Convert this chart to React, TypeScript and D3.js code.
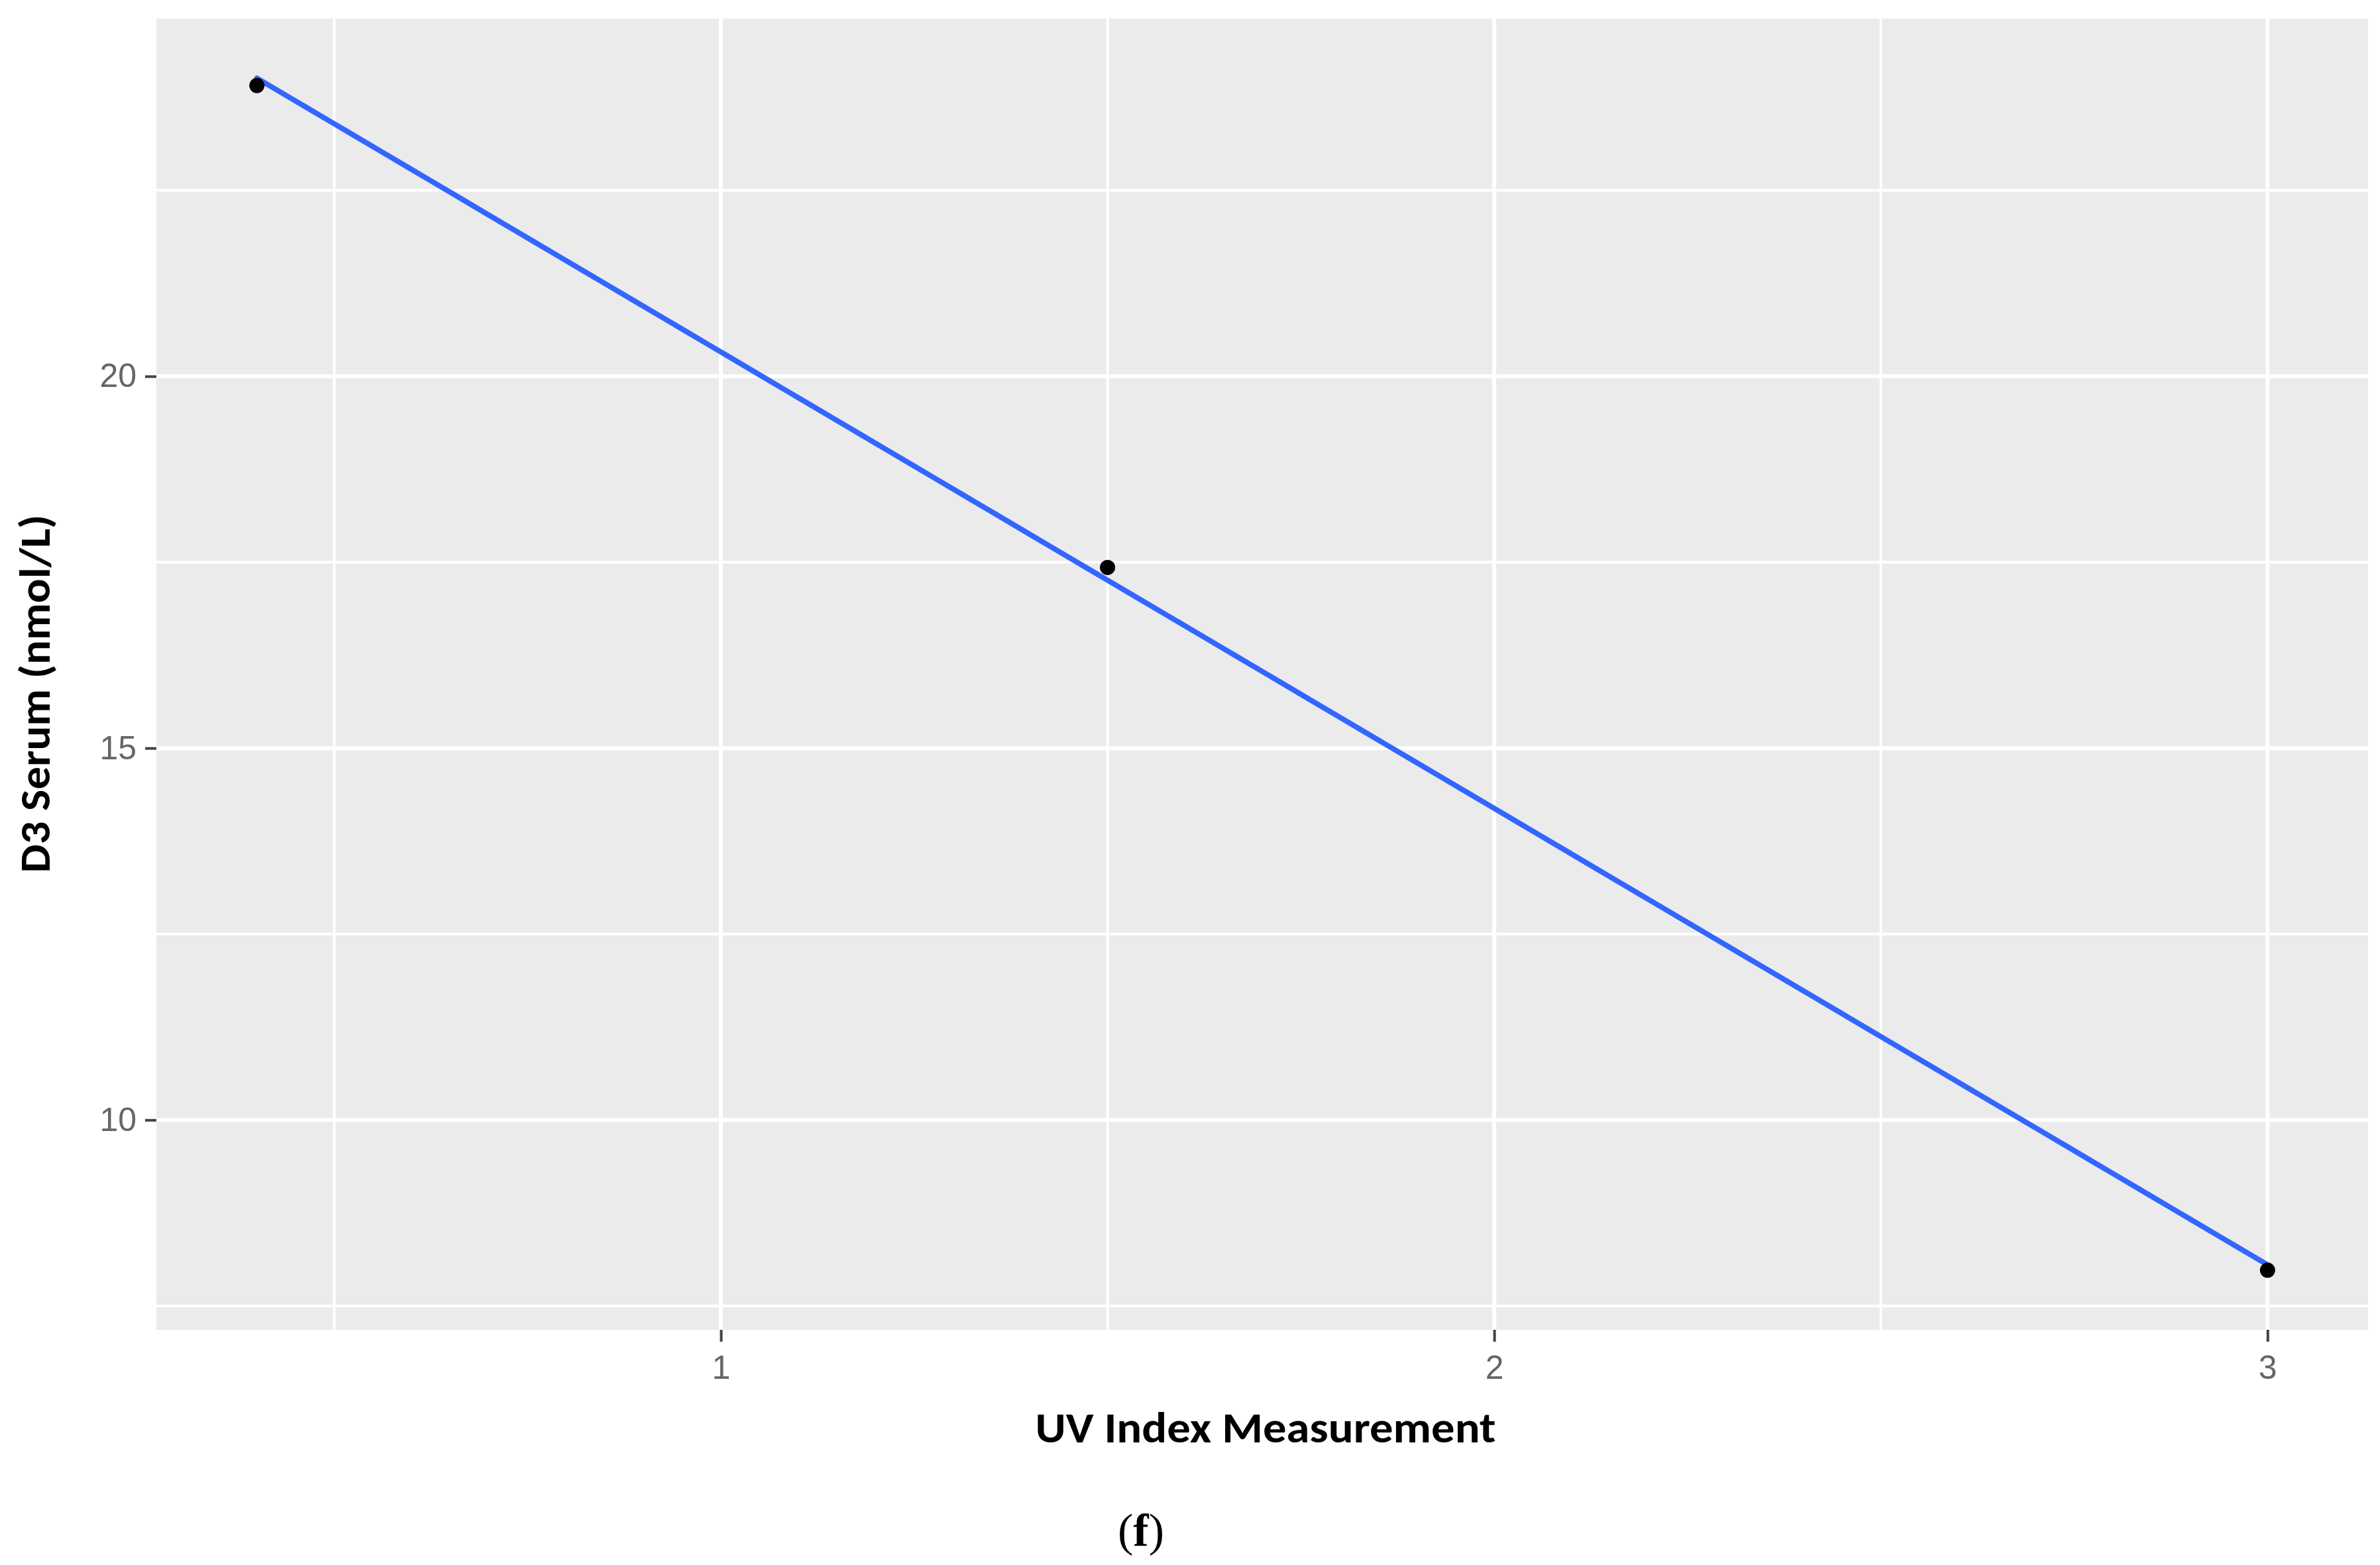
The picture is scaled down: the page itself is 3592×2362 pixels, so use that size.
import { useEffect, useRef } from "react";
import * as d3 from "d3";

// values
const uvIndex = [0.4, 1.5, 3];
const d3Serum = [23.91, 17.43, 7.98];
const xTicks = [1, 2, 3];
const yTicks = [10, 15, 20];
const xTitle = "UV Index Measurement";
const yTitle = "D3 Serum (nmol/L)";

const W = 3592;
const H = 2362;
const margin = { top: 28, right: 18, bottom: 355, left: 236 };

const App = () => {
  const chartRef = useRef<SVGSVGElement | null>(null);

  useEffect(() => {
    const svg = d3.select(chartRef.current);
    svg.selectAll("*").remove();

    const points = uvIndex.map((x, i) => ({ x, y: d3Serum[i] }));

    // least squares fit (geom_smooth-like straight line)
    const mx = d3.mean(uvIndex) as number;
    const my = d3.mean(d3Serum) as number;
    const slope =
      d3.sum(points, (p) => (p.x - mx) * (p.y - my)) /
      d3.sum(points, (p) => (p.x - mx) ** 2);
    const intercept = my - slope * mx;
    const xExt = d3.extent(uvIndex) as [number, number];
    const fitLine = d3.range(0, 81).map((i) => {
      const x = xExt[0] + ((xExt[1] - xExt[0]) * i) / 80;
      return { x, y: intercept + slope * x };
    });

    const expand = ([a, b]: [number, number]) => {
      const pad = (b - a) * 0.05;
      return [a - pad, b + pad];
    };

    const x0 = margin.left;
    const x1 = W - margin.right;
    const y0 = H - margin.bottom;
    const y1 = margin.top;

    const xScale = d3.scaleLinear().domain(expand(xExt)).range([x0, x1]);
    const yScale = d3
      .scaleLinear()
      .domain(expand(d3.extent(d3Serum.concat(fitLine.map((d) => d.y))) as [number, number]))
      .range([y0, y1]);

    // panel
    svg
      .append("rect")
      .attr("x", x0)
      .attr("y", y1)
      .attr("width", x1 - x0)
      .attr("height", y0 - y1)
      .attr("fill", "#EBEBEB");

    const xd = xScale.domain();
    const yd = yScale.domain();
    const xMinor = d3.range(xTicks[0] - 0.5, xd[1], 1).filter((v) => v > xd[0]);
    const yMinor = d3.range(yTicks[0] - 2.5, yd[1], 5).filter((v) => v > yd[0]);

    const grid = svg.append("g").attr("stroke", "#FFFFFF");
    grid
      .selectAll(".vminor")
      .data(xMinor)
      .enter()
      .append("line")
      .attr("x1", (d) => xScale(d))
      .attr("x2", (d) => xScale(d))
      .attr("y1", y1)
      .attr("y2", y0)
      .attr("stroke-width", 4);
    grid
      .selectAll(".hminor")
      .data(yMinor)
      .enter()
      .append("line")
      .attr("x1", x0)
      .attr("x2", x1)
      .attr("y1", (d) => yScale(d))
      .attr("y2", (d) => yScale(d))
      .attr("stroke-width", 4);
    grid
      .selectAll(".vmajor")
      .data(xTicks)
      .enter()
      .append("line")
      .attr("x1", (d) => xScale(d))
      .attr("x2", (d) => xScale(d))
      .attr("y1", y1)
      .attr("y2", y0)
      .attr("stroke-width", 6);
    grid
      .selectAll(".hmajor")
      .data(yTicks)
      .enter()
      .append("line")
      .attr("x1", x0)
      .attr("x2", x1)
      .attr("y1", (d) => yScale(d))
      .attr("y2", (d) => yScale(d))
      .attr("stroke-width", 6);

    // fitted line
    const line = d3
      .line<{ x: number; y: number }>()
      .x((d) => xScale(d.x))
      .y((d) => yScale(d.y));
    svg
      .append("path")
      .datum(fitLine)
      .attr("d", line)
      .attr("fill", "none")
      .attr("stroke", "#3366FF")
      .attr("stroke-width", 8)
      .attr("stroke-linecap", "round");

    // points
    svg
      .selectAll(".pt")
      .data(points)
      .enter()
      .append("circle")
      .attr("cx", (d) => xScale(d.x))
      .attr("cy", (d) => yScale(d.y))
      .attr("r", 11.5)
      .attr("fill", "#000000");

    // axes
    const tickFont = "'Liberation Sans', Arial, sans-serif";
    const gx = svg
      .append("g")
      .attr("transform", `translate(0,${y0})`)
      .call(d3.axisBottom(xScale).tickValues(xTicks).tickSize(18).tickPadding(20).tickFormat(d3.format("d")));
    gx.select(".domain").remove();
    gx.attr("font-size", 50).attr("font-family", tickFont);
    gx.selectAll("line").attr("stroke", "#444444").attr("stroke-width", 4);
    gx.selectAll("text").attr("fill", "#666666");

    const gy = svg
      .append("g")
      .attr("transform", `translate(${x0},0)`)
      .call(d3.axisLeft(yScale).tickValues(yTicks).tickSize(17).tickPadding(13).tickFormat(d3.format("d")));
    gy.select(".domain").remove();
    gy.attr("font-size", 50).attr("font-family", tickFont);
    gy.selectAll("line").attr("stroke", "#444444").attr("stroke-width", 4);
    gy.selectAll("text").attr("fill", "#666666");

    // axis titles
    const titleFont = "Carlito, 'Open Sans', sans-serif";
    svg
      .append("text")
      .attr("x", 1910)
      .attr("y", 2177)
      .attr("text-anchor", "middle")
      .attr("font-family", titleFont)
      .attr("font-weight", "bold")
      .attr("font-size", 64)
      .attr("textLength", 695)
      .attr("lengthAdjust", "spacingAndGlyphs")
      .attr("fill", "#000000")
      .text(xTitle);

    svg
      .append("text")
      .attr("transform", `translate(75,1047) rotate(-90)`)
      .attr("text-anchor", "middle")
      .attr("font-family", titleFont)
      .attr("font-weight", "bold")
      .attr("font-size", 64)
      .attr("textLength", 541)
      .attr("lengthAdjust", "spacingAndGlyphs")
      .attr("fill", "#000000")
      .text(yTitle);

    // panel caption
    const cap = svg
      .append("text")
      .attr("x", 1722)
      .attr("y", 2333)
      .attr("text-anchor", "middle")
      .attr("font-family", "'Liberation Serif', 'Times New Roman', serif")
      .attr("font-size", 70)
      .attr("fill", "#000000");
    cap.append("tspan").attr("font-weight", "normal").text("(");
    cap.append("tspan").attr("font-weight", "bold").text("f");
    cap.append("tspan").attr("font-weight", "normal").text(")");
  }, []);

  return (
    <svg
      ref={chartRef}
      width={W}
      height={H}
      style={{ position: "absolute", left: 0, top: 0, display: "block", background: "#FFFFFF" }}
    />
  );
};

export default App;
